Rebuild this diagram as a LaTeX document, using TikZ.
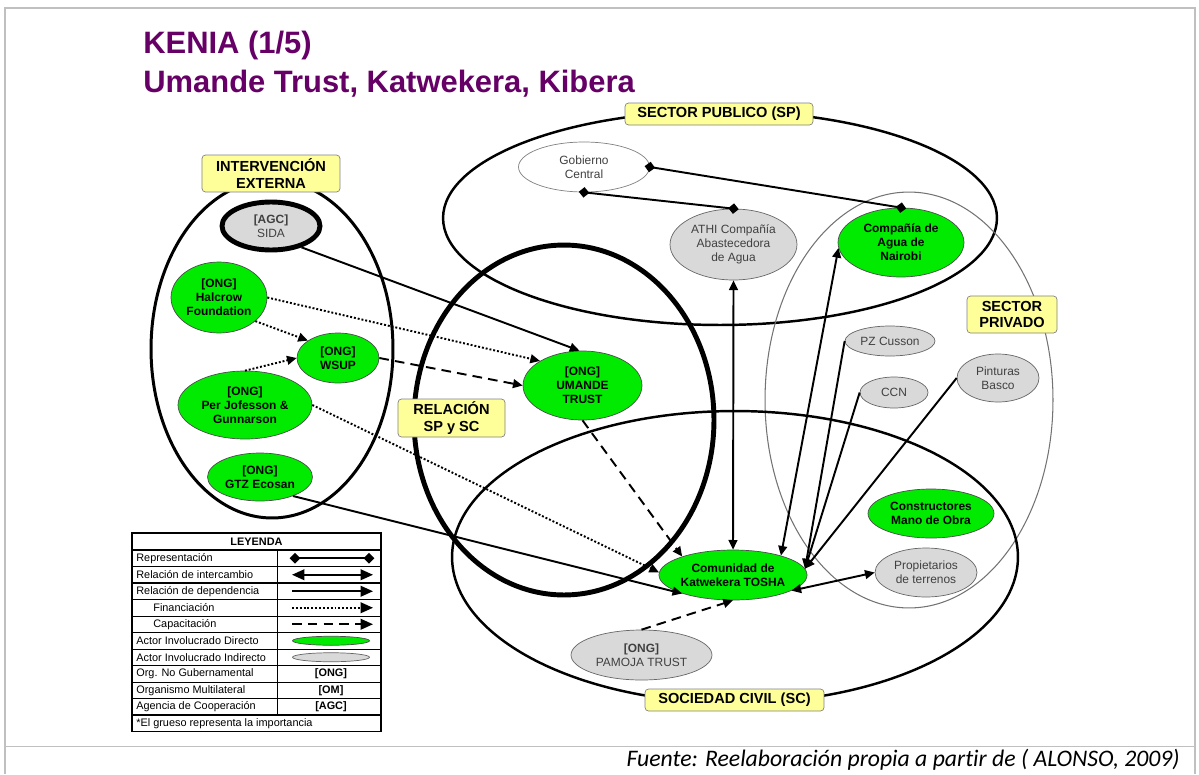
\documentclass[tikz,border=0pt]{standalone}
\usepackage{fontspec}
\setmainfont{Liberation Sans}
\newfontfamily\fuentefont[Ligatures=NoCommon]{Carlito}
\usetikzlibrary{shapes,arrows.meta,positioning}

\definecolor{verde}{RGB}{0,235,0}
\definecolor{grisnodo}{RGB}{217,217,217}
\definecolor{amarillo}{RGB}{255,255,153}
\definecolor{morado}{RGB}{102,0,102}
\definecolor{marco}{RGB}{192,192,192}

\begin{document}
\begin{tikzpicture}[
        x=0.02cm, y=-0.02cm,
        sz/.style 2 args={minimum width=#1, minimum height=#2},
        directo/.style={ellipse, draw=black!70, fill=verde, inner sep=0pt, align=center, font=\fontsize{6.8}{8}\selectfont\bfseries},
        indirecto/.style={ellipse, draw=black!60, fill=grisnodo, inner sep=0pt, align=center, text=black!75, font=\fontsize{6.8}{8}\selectfont},
        sector/.style={rectangle, rounded corners=2pt, draw=black!50, fill=amarillo, inner sep=0pt, align=center, font=\fontsize{8.3}{9.5}\selectfont\bfseries},
        region/.style={draw=black, line width=1.4pt},
        repr/.style={{Diamond[length=6pt,width=6pt]}-{Diamond[length=6pt,width=6pt]}, line width=1.1pt, shorten <=-3pt, shorten >=-3pt},
        inter/.style={{Triangle[length=5.5pt,width=5pt]}-{Triangle[length=5.5pt,width=5pt]}, line width=1.1pt},
        depen/.style={-{Triangle[length=5.5pt,width=5pt]}, line width=1.1pt},
        finan/.style={depen, dash pattern=on 1.1pt off 1.1pt},
        capac/.style={depen, dash pattern=on 5.5pt off 3.5pt},
        leyenda/.style={inner sep=0pt, font=\fontsize{6.2}{7}\selectfont}
    ]
    \useasboundingbox (0,0) rectangle (1199,774);

    % Marco
    \draw[marco, line width=1.1pt] (5,774) -- (5,8) -- (1195,8) -- (1195,774);
    \draw[marco, line width=1.1pt] (5,746.5) -- (1195,746.5);

    % Titulo
    \node[anchor=base west, inner sep=0pt, text=morado, font=\fontsize{17.6}{20}\selectfont\bfseries] (titulo1) at (143,53) {KENIA (1/5)};
    \node[anchor=base west, inner sep=0pt, text=morado, font=\fontsize{17.6}{20}\selectfont\bfseries] (titulo2) at (143,92) {Umande Trust, Katwekera, Kibera};

    % Sectores
    \draw[region] (720,218) ellipse [x radius=5.54cm, y radius=2.14cm];
    \draw[draw=black!55, line width=0.6pt] (909,400) ellipse [x radius=2.88cm, y radius=4.16cm];
    \draw[region, line width=1.7pt] (272,349) ellipse [x radius=2.42cm, y radius=3.38cm];
    \draw[region, line width=2.8pt] (564,420) ellipse [x radius=3cm, y radius=3.5cm];
    \draw[region] (735,557) ellipse [x radius=5.66cm, y radius=2.92cm];

    \node[sector, sz={3.76cm}{0.44cm}] (sp) at (719,114) {SECTOR PUBLICO (SP)};
    \node[sector, sz={2.76cm}{0.74cm}] (ie) at (271,173.5) {INTERVENCIÓN\\EXTERNA};
    \node[sector, sz={1.8cm}{0.74cm}] (spriv) at (1012,314.5) {SECTOR\\PRIVADO};
    \node[sector, sz={2.14cm}{0.76cm}] (rel) at (451.5,418) {RELACIÓN\\SP y SC};
    \node[sector, sz={3.58cm}{0.44cm}] (sc) at (734.5,700) {SOCIEDAD CIVIL (SC)};

    % Actores
    \node[indirecto, fill=white, draw=black!50, sz={2.62cm}{1cm}] (gob) at (584,167) {Gobierno\\Central};
    \node[indirecto, sz={2.54cm}{1.42cm}] (athi) at (733.5,244.5) {ATHI Compañía\\Abastecedora\\de Agua};
    \node[directo, sz={2.52cm}{1.38cm}] (nai) at (901,242.5) {Compañía de\\Agua de\\Nairobi};
    \node[indirecto, sz={1.8cm}{0.6cm}] (pz) at (890,341) {PZ Cusson};
    \node[indirecto, sz={1.36cm}{0.62cm}] (ccn) at (894,392.5) {CCN};
    \node[indirecto, sz={1.64cm}{0.96cm}] (pint) at (998,378) {Pinturas\\Basco};
    \node[directo, sz={2.52cm}{0.98cm}] (cons) at (931,513.5) {Constructores\\Mano de Obra};
    \node[indirecto, sz={2.04cm}{0.98cm}] (prop) at (926,572.5) {Propietarios\\de terrenos};
    \node[directo, sz={2.96cm}{1cm}] (com) at (733,575) {Comunidad de\\Katwekera TOSHA};
    \node[directo, sz={2.38cm}{1.38cm}] (umande) at (582.5,385.5) {{[ONG]}\\UMANDE\\TRUST};
    \node[indirecto, sz={2.82cm}{1cm}] (pamoja) at (641.5,655) {{\bfseries [ONG]}\\PAMOJA TRUST};
    \node[indirecto, draw=black, line width=2.8pt, sz={1.96cm}{0.96cm}] (sida) at (271,226) {{\bfseries [AGC]}\\SIDA};
    \node[directo, sz={1.92cm}{1.42cm}] (halcrow) at (219,297.5) {{[ONG]}\\Halcrow\\Foundation};
    \node[directo, sz={1.64cm}{1cm}] (wsup) at (338,358) {{[ONG]}\\WSUP};
    \node[directo, sz={2.68cm}{1.36cm}] (per) at (245,405) {{[ONG]}\\Per Jofesson \&\\Gunnarson};
    \node[directo, sz={2.1cm}{0.96cm}] (gtz) at (260,477) {{[ONG]}\\GTZ Ecosan};

    % Relaciones
    \draw[repr] (gob.south) -- (athi.north);
    \draw[repr] (gob.east) -- (nai.north);
    \draw[inter] (athi.south) -- (com.north);
    \draw[inter] (nai.185) -- (com.22);
    \draw[depen] (pz.west) -- (com.5);
    \draw[depen] (ccn.west) -- (com.5);
    \draw[depen] (pint.west) -- (com.5);
    \draw[inter] (com.-15) -- (prop.west);
    \draw[capac] (umande.south) -- (com.160);
    \draw[finan] (per.east) -- (com.178);
    \draw[depen] (gtz.-30) -- (com.200);
    \draw[capac] (pamoja.north) -- (com.south);
    \draw[depen] (sida.-35) -- (umande.95);
    \draw[finan] (halcrow.east) -- (umande.150);
    \draw[finan] (halcrow.-33) -- (wsup.150);
    \draw[finan] (per.north) -- (wsup.west);
    \draw[capac] (wsup.east) -- (umande.west);

    % Leyenda
    \draw[line width=0.5pt] (132,599.5) -- (381,599.5) (132,616) -- (381,616) (132,649) -- (381,649)
        (132,682) -- (381,682) (132,698.5) -- (381,698.5) (277,550) -- (277,715);
    \draw[line width=0.9pt] (132,550) -- (381,550) (132,566.5) -- (381,566.5) (132,583) -- (381,583)
        (132,632.5) -- (381,632.5) (132,665.5) -- (381,665.5) (132,715) -- (381,715);
    \draw[line width=1.1pt] (132,533) rectangle (381,731.5);

    \node[leyenda, font=\fontsize{6.2}{7}\selectfont\bfseries] (leyenda) at (256.5,541.5) {LEYENDA};
    \node[leyenda, anchor=west] (ley1) at (136,558.25) {Representación};
    \node[leyenda, anchor=west] (ley2) at (136,574.75) {Relación de intercambio};
    \node[leyenda, anchor=west] (ley3) at (136,591.25) {Relación de dependencia};
    \node[leyenda, anchor=west] (ley4) at (153,607.75) {Financiación};
    \node[leyenda, anchor=west] (ley5) at (153,624.25) {Capacitación};
    \node[leyenda, anchor=west] (ley6) at (136,640.75) {Actor Involucrado Directo};
    \node[leyenda, anchor=west] (ley7) at (136,657.25) {Actor Involucrado Indirecto};
    \node[leyenda, anchor=west] (ley8) at (136,673.75) {Org. No Gubernamental};
    \node[leyenda, anchor=west] (ley9) at (136,690.25) {Organismo Multilateral};
    \node[leyenda, anchor=west] (ley10) at (136,706.75) {Agencia de Cooperación};
    \node[leyenda, anchor=west] (ley11) at (136,723.25) {*El grueso representa la importancia};

    \coordinate (repa) at (295,558.25);
    \coordinate (repb) at (369,558.25);
    \coordinate (inta) at (292,574.75);
    \coordinate (intb) at (373,574.75);
    \coordinate (depa) at (292,591.25);
    \coordinate (depb) at (373,591.25);
    \coordinate (fina) at (292,607.75);
    \coordinate (finb) at (373,607.75);
    \coordinate (capa) at (292,624.25);
    \coordinate (capb) at (373,624.25);
    \draw[repr] (repa) -- (repb);
    \draw[inter, {Triangle[length=7pt,width=6pt]}-{Triangle[length=7pt,width=6pt]}] (inta) -- (intb);
    \draw[depen, -{Triangle[length=7pt,width=6pt]}] (depa) -- (depb);
    \draw[finan, -{Triangle[length=7pt,width=6pt]}] (fina) -- (finb);
    \draw[capac, -{Triangle[length=7pt,width=6pt]}] (capa) -- (capb);
    \node[ellipse, draw=black!70, fill=verde, inner sep=0pt, sz={1.54cm}{0.18cm}] (leydir) at (331,640.75) {};
    \node[ellipse, draw=black!60, fill=grisnodo, inner sep=0pt, sz={1.54cm}{0.18cm}] (leyind) at (331,657.25) {};
    \node[leyenda, font=\fontsize{6.2}{7}\selectfont\bfseries] (leyong) at (331,673.75) {[ONG]};
    \node[leyenda, font=\fontsize{6.2}{7}\selectfont\bfseries] (leyom) at (331,690.25) {[OM]};
    \node[leyenda, font=\fontsize{6.2}{7}\selectfont\bfseries] (leyagc) at (331,706.75) {[AGC]};

    % Fuente
    \node[anchor=base east, inner sep=0pt, font=\fuentefont\fontsize{13.5}{16}\selectfont\itshape] (fuente) at (1180,766) {Fuente: Reelaboración propia a partir de ( ALONSO, 2009)};

\end{tikzpicture}
\end{document}
